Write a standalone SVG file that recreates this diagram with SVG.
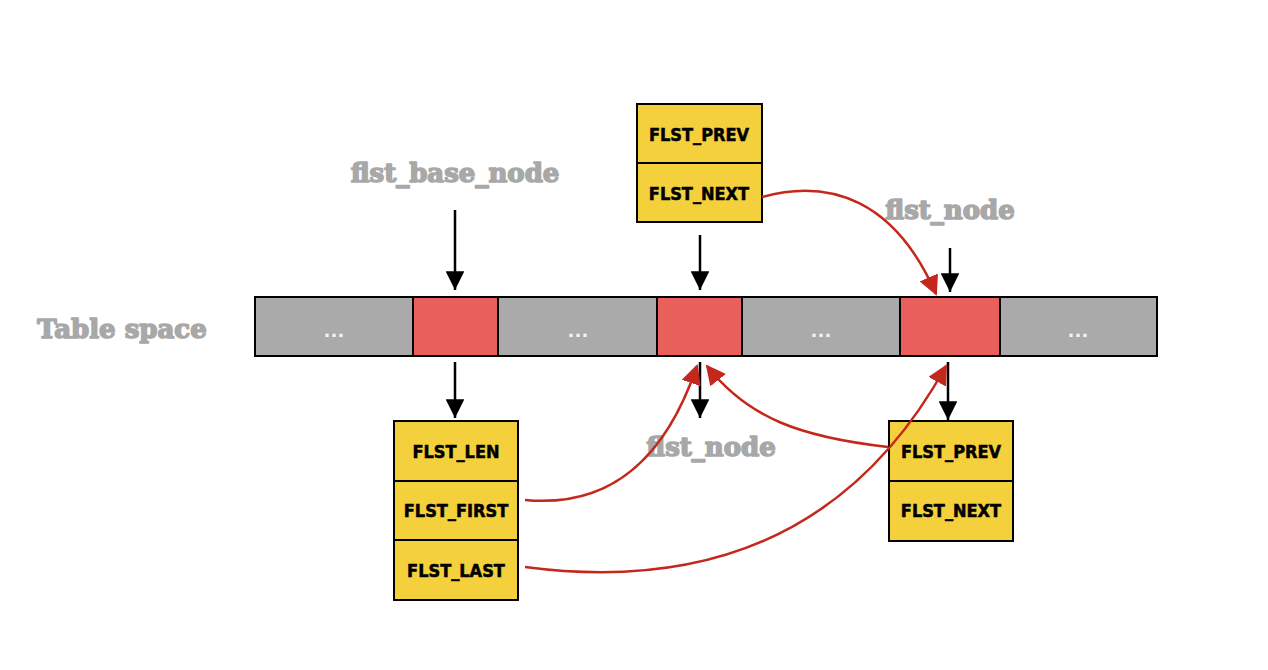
<svg xmlns="http://www.w3.org/2000/svg" width="1268" height="670" viewBox="0 0 1268 670">
<defs>
<style>
.seg{stroke:#000;stroke-width:2}
.gray{fill:#a9aaa9}
.red{fill:#e95f5b}
.box{fill:#f4d03c;stroke:#000;stroke-width:2}
.ft{font-family:"DejaVu Sans",sans-serif;font-weight:bold;font-stretch:condensed;font-size:18px;fill:#000;stroke:#000;stroke-width:0.5;text-anchor:middle}
.lbl{font-family:"DejaVu Serif","Liberation Serif",serif;font-weight:bold;font-size:26px;fill:#a8a8a8;stroke:#a8a8a8;stroke-width:1.6;stroke-linejoin:round;text-anchor:middle}
.dots{font-family:"Liberation Sans",sans-serif;font-weight:bold;font-size:22px;fill:#f4f4f4;text-anchor:middle}
.blk{stroke:#000;stroke-width:2.5;fill:none;marker-end:url(#ab)}
.rc{stroke:#c4271c;stroke-width:2.5;fill:none;marker-end:url(#ar)}
</style>
<marker id="ab" viewBox="0 0 10 10" refX="10" refY="5" markerWidth="8" markerHeight="7.5" markerUnits="strokeWidth" orient="auto"><path d="M0,0 L10,5 L0,10 z" fill="#000"/></marker>
<marker id="ar" viewBox="0 0 10 10" refX="9" refY="5" markerWidth="8" markerHeight="8" markerUnits="strokeWidth" orient="auto"><path d="M0,0 L10,5 L0,10 z" fill="#c4271c"/></marker>
</defs>
<rect width="1268" height="670" fill="#fff"/>

<g id="tablespace">
<rect class="seg gray" x="255" y="297" width="158" height="59"/>
<rect class="seg red" x="413" y="297" width="85" height="59"/>
<rect class="seg gray" x="498" y="297" width="159" height="59"/>
<rect class="seg red" x="657" y="297" width="85" height="59"/>
<rect class="seg gray" x="742" y="297" width="158" height="59"/>
<rect class="seg red" x="900" y="297" width="100" height="59"/>
<rect class="seg gray" x="1000" y="297" width="157" height="59"/>
<text class="dots" x="334" y="337">…</text>
<text class="dots" x="578" y="337">…</text>
<text class="dots" x="821" y="337">…</text>
<text class="dots" x="1078" y="337">…</text>
</g>

<g id="labels">
<text class="lbl" x="122" y="338">Table space</text>
<text class="lbl" x="455" y="182">flst_base_node</text>
<text class="lbl" x="950" y="219">flst_node</text>
<text class="lbl" x="711" y="456">flst_node</text>
</g>

<g id="node-top">
<rect class="box" x="637" y="104" width="125" height="59"/>
<rect class="box" x="637" y="163" width="125" height="59"/>
<text class="ft" x="699" y="141">FLST_PREV</text>
<text class="ft" x="699" y="200">FLST_NEXT</text>
</g>

<g id="base-node">
<rect class="box" x="394" y="421" width="124" height="60"/>
<rect class="box" x="394" y="481" width="124" height="59"/>
<rect class="box" x="394" y="540" width="124" height="60"/>
<text class="ft" x="456" y="458">FLST_LEN</text>
<text class="ft" x="456" y="517">FLST_FIRST</text>
<text class="ft" x="456" y="577">FLST_LAST</text>
</g>

<g id="node-right">
<rect class="box" x="889" y="421" width="124" height="60"/>
<rect class="box" x="889" y="481" width="124" height="60"/>
<text class="ft" x="951" y="458">FLST_PREV</text>
<text class="ft" x="951" y="517">FLST_NEXT</text>
</g>

<g id="connectors">
<line class="blk" x1="455" y1="210" x2="455" y2="290"/>
<line class="blk" x1="700" y1="235" x2="700" y2="290"/>
<line class="blk" x1="950" y1="248" x2="950" y2="292"/>
<line class="blk" x1="455" y1="362" x2="455" y2="418"/>
<line class="blk" x1="700" y1="362" x2="700" y2="418"/>
<line class="blk" x1="948" y1="362" x2="948" y2="420"/>
<path class="rc" d="M762,197 C830,178 895,200 936,294"/>
<path class="rc" d="M525,500 C610,508 665,460 697,366"/>
<path class="rc" d="M888,447 C800,437 748,418 707,366"/>
<path class="rc" d="M525,567 C700,590 850,540 946,366"/>
</g>
</svg>
